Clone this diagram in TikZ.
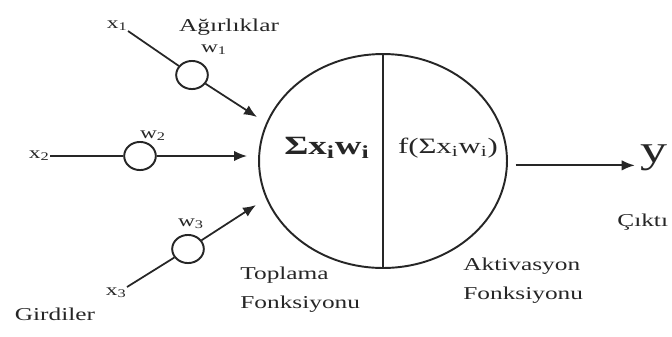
\documentclass[tikz,border=0pt]{standalone}
\usepackage{fontspec}
\setmainfont{Liberation Serif}[FakeStretch=1.4]
\usetikzlibrary{arrows.meta, shapes.geometric}
\definecolor{Ink}{HTML}{262626}

\begin{document}
\begin{tikzpicture}[x=0.02cm, y=-0.02cm,
    weight/.style={ellipse, draw=Ink, line width=1.1pt, minimum width=18pt, minimum height=16pt, inner sep=0pt},
    cell/.style={ellipse, draw=Ink, line width=1.1pt, minimum width=4.96cm, minimum height=4.28cm, inner sep=0pt},
    txt/.style={text=Ink, font=\fontsize{10.3}{16.4}\selectfont, inner sep=0pt},
    sub/.style={text=Ink, font=\fontsize{9.5}{11}\selectfont, inner sep=0pt},
    wire/.style={draw=Ink, line width=1pt},
    arrow/.style={-{Latex[length=2.6mm, width=2.1mm]}, draw=Ink, line width=1pt}
]
\useasboundingbox (0,0) rectangle (672,336);

% neuron
\node[cell] (neuron) at (383,161) {};
\draw[wire] (neuron.north) -- (neuron.south);
\node[txt, font=\fontsize{15}{17}\bfseries] (sum) at (327,148) {Σx\textsubscript{i}w\textsubscript{i}};
\node[txt, font=\fontsize{12.5}{15}\selectfont] (act) at (448,148) {f(Σx\textsubscript{i}w\textsubscript{i})};

% inputs and weights
\node[sub, anchor=south east] (x1) at (128,31) {x\textsubscript{1}};
\node[sub, anchor=east] (x2) at (50,156) {x\textsubscript{2}};
\node[sub, anchor=north east] (x3) at (127,287) {x\textsubscript{3}};
\node[weight] (c1) at (192,75) {};
\node[weight] (c2) at (140,156) {};
\node[weight] (c3) at (188,249) {};
\node[sub] (w1) at (214,50) {w\textsubscript{1}};
\node[sub] (w2) at (153,136) {w\textsubscript{2}};
\node[sub] (w3) at (191,224) {w\textsubscript{3}};
\coordinate (t1) at (257,117);
\coordinate (t2) at (247,156);
\coordinate (t3) at (256,205);

\draw[wire] (x1.south east) -- (c1);
\draw[arrow] (c1) -- (t1);
\draw[wire] (x2.east) -- (c2);
\draw[arrow] (c2) -- (t2);
\draw[wire] (x3.north east) -- (c3);
\draw[arrow] (c3) -- (t3);

% output
\node[txt, font=\fontsize{22}{24}\selectfont, anchor=west] (yout) at (640,158) {y};
\draw[arrow, shorten <=4.5pt, shorten >=3pt] (neuron.-2) -- (neuron.-2 -| yout.west);

% captions
\node[txt] (agr) at (229,27) {Ağırlıklar};
\node[txt] (gir) at (55,314) {Girdiler};
\node[txt, align=left, anchor=west] (topl) at (240,290) {Toplama\\Fonksiyonu};
\node[txt, align=left, anchor=west] (aktv) at (463,281) {Aktivasyon\\Fonksiyonu};
\node[txt, anchor=west] (cikti) at (617,222) {Çıktı};
\end{tikzpicture}
\end{document}
